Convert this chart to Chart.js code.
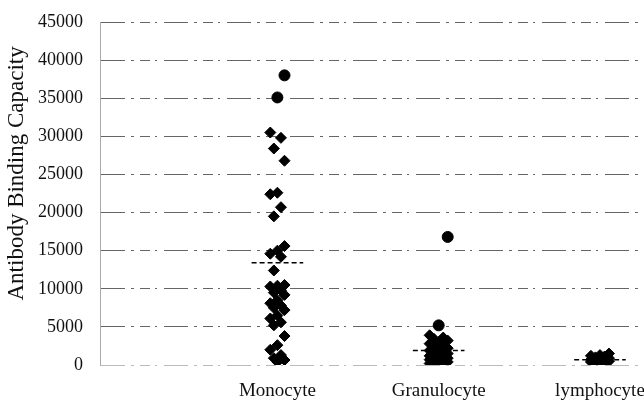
<!DOCTYPE html>
<html>
<head>
<meta charset="utf-8">
<script src="https://cdn.jsdelivr.net/npm/chart.js@4/dist/chart.umd.min.js"></script>
<style>
    html, body { margin: 0; padding: 0; background: #fff; overflow: hidden; }
    #wrap { width: 700px; height: 405px; }
</style>
</head>
<body>
<div id="wrap"><canvas id="abcChart" width="700" height="405"></canvas></div>
<script>
const cellTypes = ["Monocyte", "Granulocyte", "lymphocyte"];
const monocyteValues = [38000, 35100, 30500, 29800, 28400, 26800, 22600, 22400, 20700, 19500,
    15600, 15000, 14600, 14200, 12400, 10500, 10400, 10300, 9800, 9500, 9200, 8500, 8100,
    7800, 7500, 7200, 6500, 6100, 5600, 5200, 3800, 2600, 2000, 1300, 900, 650, 400];
const granulocyteValues = [16800, 5200, 3900, 3600, 3400, 3200, 3000, 2800, 2600, 2400, 2200,
    2000, 1900, 1800, 1600, 1500, 1400, 1200, 1100, 1000, 900, 800, 700, 600, 500, 400, 300, 200, 100];
const lymphocyteValues = [1500, 1300, 1200, 1100, 1000, 900, 800, 700, 600, 550, 500, 450, 400, 350, 300];
const meanValues = [13400, 1900, 700];
const yTickValues = [0, 5000, 10000, 15000, 20000, 25000, 30000, 35000, 40000, 45000];

const serif = "'Liberation Serif', 'DejaVu Serif', serif";

// spread the dots a little sideways around their category
function spread(values, pos, width) {
    return values.map(function (v, i) {
        return { x: pos + ((i * 3 + 4) % 5 - 2) * width, y: v };
    });
}

function meanLine(pos, v) {
    return [{ x: pos - 0.16, y: v }, { x: pos + 0.16, y: v }];
}

const dotSets = [monocyteValues, granulocyteValues, lymphocyteValues].map(function (vals, i) {
    return {
        type: "scatter",
        data: spread(vals, i + 1, i === 0 ? 0.022 : 0.028),
        backgroundColor: "#000",
        borderColor: "#000",
        pointRadius: 5.5,
        pointStyle: function (ctx) {
            const p = ctx.raw;
            return (p && (p.y > 34000 || (i === 1 && p.y > 5000))) ? "circle" : "rectRot";
        }
    };
});

const meanSets = meanValues.map(function (m, i) {
    return {
        type: "line",
        data: meanLine(i + 1, m),
        borderColor: "#000",
        borderWidth: 1.5,
        borderDash: [5, 3],
        pointRadius: 0,
        fill: false
    };
});

new Chart("abcChart", {
    type: "scatter",
    data: { datasets: meanSets.concat(dotSets) },
    options: {
        responsive: false,
        animation: false,
        layout: { padding: { top: 22, bottom: 0, left: 0, right: 0 } },
        plugins: { legend: { display: false }, tooltip: { enabled: false } },
        scales: {
            x: {
                type: "linear",
                min: -0.1,
                max: 3.58,
                afterBuildTicks: function (scale) {
                    scale.ticks = [1, 2, 3].map(function (v) { return { value: v }; });
                },
                afterFit: function (scale) { scale.height = 40; },
                ticks: {
                    padding: 7,
                    color: "#111",
                    font: { family: serif, size: 19 },
                    callback: function (v) { return cellTypes[v - 1]; },
                    autoSkip: false,
                    maxRotation: 0
                },
                grid: { display: false },
                border: { display: false }
            },
            y: {
                min: 0,
                max: 45000,
                afterBuildTicks: function (scale) {
                    scale.ticks = yTickValues.map(function (v) { return { value: v }; });
                },
                afterFit: function (scale) {
                    scale.width = 100;
                    scale.paddingTop = 0;
                },
                ticks: {
                    padding: 17,
                    color: "#111",
                    font: { family: serif, size: 18 },
                    callback: function (v) { return String(v); }
                },
                grid: {
                    color: function (ctx) { return ctx.tick && ctx.tick.value === 0 ? "#bbb" : "#666"; },
                    lineWidth: 1,
                    drawTicks: false
                },
                border: { display: true, color: "#aaa", dash: [24, 6, 3, 6, 10, 5, 2, 7] },
                title: {
                    display: true,
                    text: "\u00a0\u00a0\u00a0\u00a0\u00a0\u00a0\u00a0Antibody Binding Capacity",
                    color: "#111",
                    font: { family: serif, size: 23 },
                    padding: { top: 3, bottom: 0 }
                }
            }
        }
    }
});
</script>
</body>
</html>
